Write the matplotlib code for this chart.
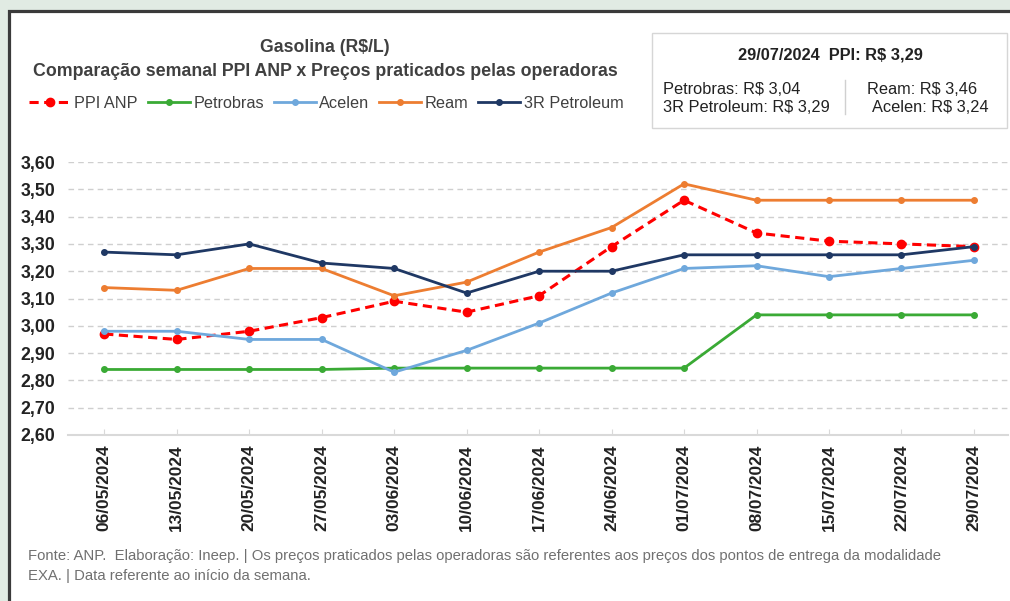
import matplotlib.pyplot as plt
import matplotlib as mpl
from matplotlib.patches import Rectangle
from matplotlib.lines import Line2D

mpl.rcParams['font.family'] = ['Liberation Sans', 'DejaVu Sans']

# semanas (início da semana)
semanas = ["06/05/2024", "13/05/2024", "20/05/2024", "27/05/2024", "03/06/2024",
           "10/06/2024", "17/06/2024", "24/06/2024", "01/07/2024", "08/07/2024",
           "15/07/2024", "22/07/2024", "29/07/2024"]

ppi_anp = [2.97, 2.95, 2.98, 3.03, 3.09, 3.05, 3.11, 3.29, 3.46, 3.34, 3.31, 3.30, 3.29]
petrobras = [2.84, 2.84, 2.84, 2.84, 2.845, 2.845, 2.845, 2.845, 2.845, 3.04, 3.04, 3.04, 3.04]
acelen = [2.98, 2.98, 2.95, 2.95, 2.83, 2.91, 3.01, 3.12, 3.21, 3.22, 3.18, 3.21, 3.24]
ream = [3.14, 3.13, 3.21, 3.21, 3.11, 3.16, 3.27, 3.36, 3.52, 3.46, 3.46, 3.46, 3.46]
r3_petroleum = [3.27, 3.26, 3.30, 3.23, 3.21, 3.12, 3.20, 3.20, 3.26, 3.26, 3.26, 3.26, 3.29]

yticks = [2.6 + 0.1 * i for i in range(11)]

W, H = 1010, 601
fig = plt.figure(figsize=(W / 100, H / 100), dpi=100, facecolor="#e1ebe3")

# moldura branca com borda escura
fig.patches.append(Rectangle((8.5 / W, -0.1), 1.2, 1 - 10.5 / H + 0.1, transform=fig.transFigure,
                             facecolor="white", edgecolor="#3a3a3a", linewidth=2.3, zorder=-5))

ax = fig.add_axes([68 / W, 1 - 435 / H, (1008 - 68) / W, (435 - 162) / H])
x = list(range(len(semanas)))

ax.plot(x, ppi_anp, color="#ff0000", lw=2.2, ls=(0, (3, 1.8)), marker="o", ms=6, label="PPI ANP")
ax.plot(x, petrobras, color="#3aaa35", lw=2.0, marker="o", ms=4, label="Petrobras")
ax.plot(x, acelen, color="#6fa8dc", lw=2.0, marker="o", ms=4, label="Acelen")
ax.plot(x, ream, color="#ed7d31", lw=2.0, marker="o", ms=4, label="Ream")
ax.plot(x, r3_petroleum, color="#1f3864", lw=2.0, marker="o", ms=4, label="3R Petroleum")

ax.set_xlim(-0.5, 12.47)
ax.set_ylim(2.6, 3.6)
ax.set_yticks(yticks)
ax.set_yticklabels([f"{v:.2f}".replace(".", ",") for v in yticks], fontsize=12.8, fontweight="bold",
                   color="#222222")
ax.set_xticks(x)
ax.set_xticklabels(semanas, rotation=90, fontsize=12.4, fontweight="bold", color="#222222")
ax.tick_params(axis="y", length=0, pad=9)
ax.tick_params(axis="x", length=4, color="#d9d9d9", pad=7, direction="in")
ax.grid(axis="y", color="#cfcfcf", ls=(0, (4, 3)), lw=1)
ax.set_axisbelow(True)
for s in ["top", "right", "left"]:
    ax.spines[s].set_visible(False)
ax.spines["bottom"].set_color("#d9d9d9")
ax.spines["bottom"].set_linewidth(1.5)
ax.set_facecolor("none")

# títulos
fig.text(325 / W, 1 - 47 / H, "Gasolina (R$/L)", ha="center", va="center", fontsize=12.7,
         fontweight="bold", color="#404040")
fig.text(325 / W, 1 - 71 / H, "Comparação semanal PPI ANP x Preços praticados pelas operadoras",
         ha="center", va="center", fontsize=12.8, fontweight="bold", color="#404040")

handles, labels = ax.get_legend_handles_labels()
fig.legend(handles, labels, loc="center left", bbox_to_anchor=(29 / W, 1 - 103 / H), ncol=5,
           frameon=False, fontsize=11.7, handlelength=2.6, handletextpad=0.2, columnspacing=0.6,
           labelcolor="#404040", borderaxespad=0, borderpad=0)

# caixa com últimos valores
fig.patches.append(Rectangle((652 / W, 1 - 128 / H), (1007 - 652) / W, (128 - 33) / H,
                             transform=fig.transFigure, facecolor="white", edgecolor="#d6d6d6",
                             linewidth=1, zorder=1))
fig.text(830 / W, 1 - 55 / H, "29/07/2024  PPI: R$ 3,29", ha="center", va="center", fontsize=11.8,
         fontweight="bold", color="#222222")
fig.text(663 / W, 1 - 89 / H, "Petrobras: R$ 3,04", ha="left", va="center", fontsize=11.8, color="#222222")
fig.text(663 / W, 1 - 107 / H, "3R Petroleum: R$ 3,29", ha="left", va="center", fontsize=11.8, color="#222222")
fig.text(922 / W, 1 - 89 / H, "Ream: R$ 3,46", ha="center", va="center", fontsize=11.8, color="#222222")
fig.text(930 / W, 1 - 107 / H, "Acelen: R$ 3,24", ha="center", va="center", fontsize=11.8, color="#222222")
fig.lines.append(Line2D([845 / W, 845 / W], [1 - 80 / H, 1 - 114 / H], transform=fig.transFigure,
                        color="#d0d0d0", lw=1))

# rodapé
fig.text(28 / W, 1 - 556 / H,
         "Fonte: ANP.  Elaboração: Ineep. | Os preços praticados pelas operadoras são referentes aos preços dos pontos de entrega da modalidade",
         ha="left", va="center", fontsize=10.7, color="#707070")
fig.text(28 / W, 1 - 576 / H, "EXA. | Data referente ao início da semana.", ha="left", va="center",
         fontsize=10.7, color="#707070")

fig.savefig("out.png", dpi=100, facecolor=fig.get_facecolor())
